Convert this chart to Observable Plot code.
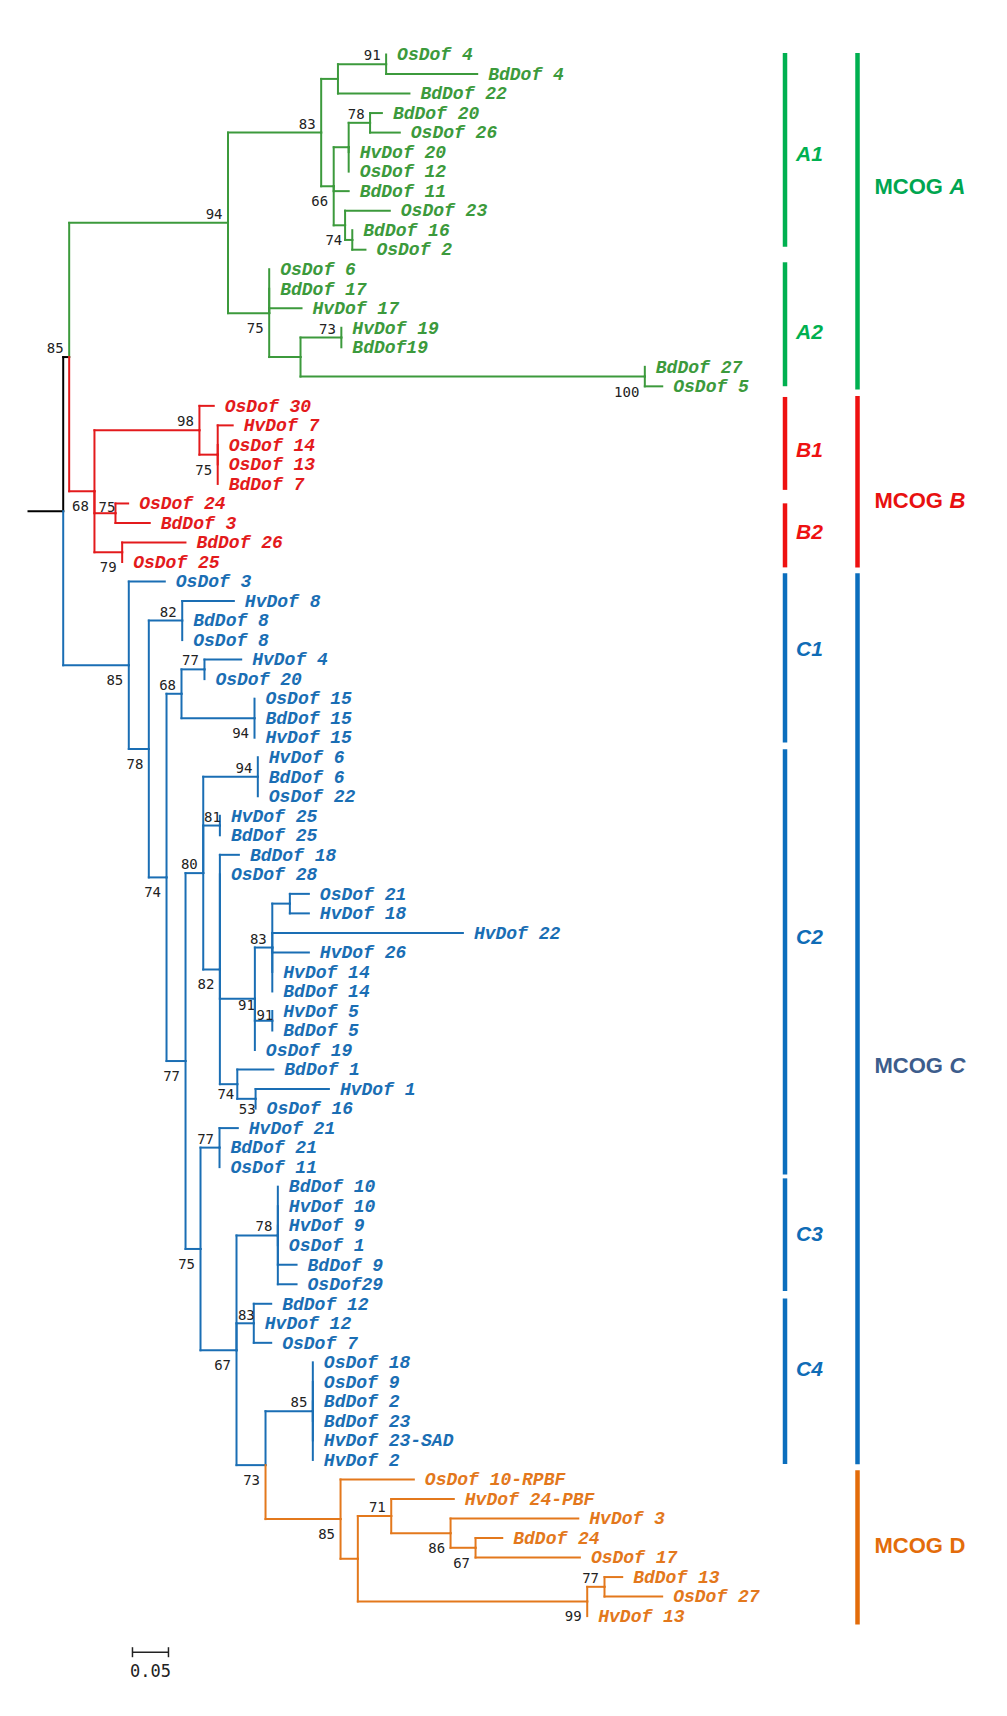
<!DOCTYPE html>
<html><head><meta charset="utf-8">
<script src="https://cdn.jsdelivr.net/npm/d3@7"></script>
<script src="https://cdn.jsdelivr.net/npm/@observablehq/plot@0.6"></script>
<style>body{margin:0;background:#fff}</style>
</head><body><div id="chart"></div>
<script>
// ---------------- DATA ----------------
// Tree edges: [child, parent, branch length (substitutions/site)], children in display order
const edges = [
 ["R","root",0.0482],
 ["AB","R",0.0083],
 ["A","AB",0.2206],
 ["A1","A",0.1294],
 ["A1a","A1",0.0233],
 ["A1b","A1a",0.0669],
 ["OsDof 4","A1b",0],
 ["BdDof 4","A1b",0.1265],
 ["BdDof 22","A1a",0.0993],
 ["A1c","A1",0.0174],
 ["A1d","A1c",0.0208],
 ["A1e","A1d",0.0297],
 ["BdDof 20","A1e",0.0164],
 ["OsDof 26","A1e",0.0413],
 ["HvDof 20","A1d",0],
 ["OsDof 12","A1d",0],
 ["BdDof 11","A1c",0.0208],
 ["A1f","A1c",0.0158],
 ["OsDof 23","A1f",0.0621],
 ["A1g","A1f",0.0100],
 ["BdDof 16","A1g",0],
 ["OsDof 2","A1g",0.0183],
 ["A2","A",0.0572],
 ["OsDof 6","A2",0],
 ["BdDof 17","A2",0],
 ["HvDof 17","A2",0.0449],
 ["A2a","A2",0.0435],
 ["A2b","A2a",0.0567],
 ["HvDof 19","A2b",0],
 ["BdDof19","A2b",0],
 ["A2c","A2a",0.4782],
 ["BdDof 27","A2c",0],
 ["OsDof 5","A2c",0.0242],
 ["B","AB",0.0351],
 ["B1","B",0.1458],
 ["OsDof 30","B1",0.0199],
 ["B1a","B1",0.0254],
 ["HvDof 7","B1a",0.0208],
 ["OsDof 14","B1a",0],
 ["OsDof 13","B1a",0],
 ["BdDof 7","B1a",0],
 ["B2","B",0.0292],
 ["OsDof 24","B2",0.0176],
 ["BdDof 3","B2",0.0476],
 ["B3","B",0.0385],
 ["BdDof 26","B3",0.0879],
 ["OsDof 25","B3",0],
 ["C","R",0.0911],
 ["OsDof 3","C",0.0500],
 ["Ca","C",0.0278],
 ["Cb","Ca",0.0464],
 ["HvDof 8","Cb",0.0717],
 ["BdDof 8","Cb",0],
 ["OsDof 8","Cb",0],
 ["Cc","Ca",0.0246],
 ["Cd","Cc",0.0208],
 ["Ce","Cd",0.0319],
 ["HvDof 4","Ce",0.0510],
 ["OsDof 20","Ce",0],
 ["Cf","Cd",0.1014],
 ["OsDof 15","Cf",0],
 ["BdDof 15","Cf",0],
 ["HvDof 15","Cf",0],
 ["Cg","Cc",0.0264],
 ["Ch","Cg",0.0246],
 ["Ci","Ch",0.0758],
 ["HvDof 6","Ci",0],
 ["BdDof 6","Ci",0],
 ["OsDof 22","Ci",0],
 ["Cj","Ch",0.0231],
 ["HvDof 25","Cj",0],
 ["BdDof 25","Cj",0],
 ["Ck","Ch",0.0231],
 ["BdDof 18","Ck",0.0264],
 ["OsDof 28","Ck",0],
 ["Cl","Ck",0.0486],
 ["Cm","Cl",0.0242],
 ["Cn","Cm",0.0244],
 ["OsDof 21","Cn",0.0264],
 ["HvDof 18","Cn",0.0264],
 ["HvDof 22","Cm",0.2647],
 ["HvDof 26","Cm",0.0508],
 ["HvDof 14","Cm",0],
 ["BdDof 14","Cm",0],
 ["Co","Cl",0.0242],
 ["HvDof 5","Co",0],
 ["BdDof 5","Co",0],
 ["OsDof 19","Cl",0],
 ["Cp","Ck",0.0242],
 ["BdDof 1","Cp",0.0500],
 ["Cq","Cp",0.0254],
 ["HvDof 1","Cq",0.1018],
 ["OsDof 16","Cq",0],
 ["Cr","Cg",0.0208],
 ["Cs","Cr",0.0264],
 ["HvDof 21","Cs",0.0254],
 ["BdDof 21","Cs",0],
 ["OsDof 11","Cs",0],
 ["Ct","Cr",0.0500],
 ["Cu","Ct",0.0574],
 ["BdDof 10","Cu",0],
 ["HvDof 10","Cu",0],
 ["HvDof 9","Cu",0],
 ["OsDof 1","Cu",0],
 ["BdDof 9","Cu",0.0260],
 ["OsDof29","Cu",0.0260],
 ["Cv","Ct",0.0240],
 ["BdDof 12","Cv",0.0242],
 ["HvDof 12","Cv",0],
 ["OsDof 7","Cv",0.0242],
 ["Cw","Ct",0.0403],
 ["Cx","Cw",0.0657],
 ["OsDof 18","Cx",0],
 ["OsDof 9","Cx",0],
 ["BdDof 2","Cx",0],
 ["BdDof 23","Cx",0],
 ["HvDof 23-SAD","Cx",0],
 ["HvDof 2","Cx",0],
 ["D","Cw",0.1042],
 ["OsDof 10-RPBF","D",0.1018],
 ["Da","D",0.0240],
 ["Db","Da",0.0464],
 ["HvDof 24-PBF","Db",0.0869],
 ["Dc","Db",0.0824],
 ["HvDof 3","Dc",0.1774],
 ["Dd","Dc",0.0347],
 ["BdDof 24","Dd",0.0371],
 ["OsDof 17","Dd",0.1449],
 ["De","Da",0.3186],
 ["Df","De",0.0240],
 ["BdDof 13","Df",0.0246],
 ["OsDof 27","Df",0.0801],
 ["HvDof 13","De",0]
];

// Subtree roots that define the MCOG groups
const groupRoots = [["A","A"],["B","B"],["C","C"],["D","D"]];

// Bootstrap values: [node, value]
const bootstrap = [
 ["A1b",91],["A1",83],["A1e",78],["A1c",66],["A1g",74],["A",94],["AB",85],
 ["A2",75],["A2b",73],["A2c",100],
 ["B1",98],["B1a",75],["B",68],["B2",75],["B3",79],
 ["C",85],["Cb",82],["Ce",77],["Cd",68],["Cf",94],["Ca",78],["Ci",94],["Cj",81],
 ["Ch",80],["Cc",74],["Cm",83],["Ck",82],["Cl",91],["Co",91],["Cp",74],["Cq",53],
 ["Cg",77],["Cs",77],["Cr",75],["Cu",78],["Cv",83],["Ct",67],["Cx",85],["Cw",73],
 ["D",85],["Db",71],["Dc",86],["Dd",67],["Df",77],["De",99]
];

// Sub-clade bars: [label, from leaf index, to leaf index, label position]
const subclades = [
 ["A1",-0.05,9.88,5.13],["A2",10.67,17.02,14.23],
 ["B1",17.57,22.33,20.26],["B2",23.02,26.3,24.5],
 ["C1",26.6,35.27,30.47],["C2",35.62,57.4,45.22],
 ["C3",57.6,63.37,60.44],["C4",63.76,72.23,67.35]
];
// MCOG bars: [group, from, to, label position]
const mcogs = [
 ["A",-0.05,17.19,6.78],["B",17.52,26.3,22.85],
 ["C",26.6,72.25,51.83],["D",72.55,80.45,76.42]
];
const scaleBar = {x: 0.1444, y: 81.85, length: 0.05, label: "0.05"};

// ---------------- STYLE / LAYOUT ----------------
const treeColor = {A:"#3c9a3c", B:"#e31a1c", C:"#1a6eb4", D:"#e3781c", none:"#000000"};
const barColor = {A:"#00b050", B:"#ee1111", C:"#0b6ebd", D:"#e36c0a"};
const mcogColor = {A:"#00a650", B:"#e81010", C:"#3d5d8c", D:"#e36c0a"};
const italicLetter = new Set(["A","B","C"]);
const colSub = 1.0507, colMcog = 1.1514;
const X0 = 28, PXU = 720;

// ---------------- BUILD TREE ----------------
const children = new Map(), parentOf = new Map(), lenOf = new Map();
for (const [c,p,l] of edges) {
  if (!children.has(p)) children.set(p, []);
  children.get(p).push(c); parentOf.set(c,p); lenOf.set(c,l);
}
const pos = new Map();
const leaves = [];
let leafIdx = 0;
(function layout(id, depth) {
  const kids = children.get(id);
  if (!kids) { pos.set(id, {x: depth, y: leafIdx++}); leaves.push(id); return; }
  kids.forEach(k => layout(k, depth + lenOf.get(k)));
  const ys = kids.map(k => pos.get(k).y);
  pos.set(id, {x: depth, y: (ys[0] + ys[ys.length - 1]) / 2});
})("root", 0);

const markMap = new Map(groupRoots);
function groupOf(id) {
  let n = id;
  while (n !== undefined) { if (markMap.has(n)) return markMap.get(n); n = parentOf.get(n); }
  return "none";
}

const segs = [];
for (const [c,p] of edges) {
  const pc = pos.get(p), cc = pos.get(c), g = groupOf(c);
  if (pc.y !== cc.y) segs.push({x1: pc.x, y1: pc.y, x2: pc.x, y2: cc.y, g});
  if (pc.x !== cc.x) segs.push({x1: pc.x, y1: cc.y, x2: cc.x, y2: cc.y, g});
}
const leafData = leaves.map(id => ({name: id, x: pos.get(id).x, y: pos.get(id).y, g: groupOf(id)}));

const below = new Set(["A1c","A2","A2c","B1a","B","B3","C","Cf","Ca","Cc","Ck","Cg","Cr","Ct","Cw","D","Dc","Dd","De"]);
const override = {A1g:[-10,1], Cl:[0,7], Co:[1,-5.5], Cj:[1,-8], B2:[0,-6], Cv:[1,-8], Cq:[0,11], Cp:[-3,10]};
const placements = {a:[-5.5,-8.5], b:[-5.5,15.5], ...override};
const bootGroups = {};
for (const [n,v] of bootstrap) {
  const key = override[n] ? n : (below.has(n) ? "b" : "a");
  (bootGroups[key] ??= []).push({x: pos.get(n).x, y: pos.get(n).y, v: String(v)});
}

const groupsList = ["none","A","B","C","D"];
const marks = [];
for (const g of groupsList) {
  marks.push(Plot.link(segs.filter(s => s.g === g), {x1:"x1", y1:"y1", x2:"x2", y2:"y2",
    stroke: treeColor[g], strokeWidth: 2, strokeLinecap: "square"}));
}
for (const g of groupsList) {
  const d = leafData.filter(l => l.g === g);
  if (!d.length) continue;
  marks.push(Plot.text(d, {x:"x", y:"y", text:"name", fill: treeColor[g], textAnchor:"start", dx: 11,
    fontFamily:"Liberation Mono", fontWeight:"bold", fontStyle:"italic", fontSize: 18}));
}
for (const [k, items] of Object.entries(bootGroups)) {
  const [dx, dy] = placements[k];
  marks.push(Plot.text(items, {x:"x", y:"y", text:"v", dx, dy, textAnchor:"end",
    fill:"#222", fontFamily:"DejaVu Sans Mono", fontSize: 14}));
}
// clade bars
const subData = subclades.map(([label,y1,y2,ly]) => ({label, y1, y2, ly, g: label[0]}));
const mcogData = mcogs.map(([g,y1,y2,ly]) => ({g, y1, y2, ly}));
for (const g of ["A","B","C","D"]) {
  const s = subData.filter(d => d.g === g);
  if (s.length) {
    marks.push(Plot.ruleX(s, {x: colSub, y1:"y1", y2:"y2", stroke: barColor[g], strokeWidth: 4.5}));
    marks.push(Plot.text(s, {x: colSub, y:"ly", text:"label", dx: 11, textAnchor:"start", fill: barColor[g] === "#0b6ebd" ? "#0f6cb6" : barColor[g],
      fontFamily:"Liberation Sans", fontWeight:"bold", fontStyle:"italic", fontSize: 21}));
  }
  const m = mcogData.filter(d => d.g === g);
  marks.push(Plot.ruleX(m, {x: colMcog, y1:"y1", y2:"y2", stroke: barColor[g], strokeWidth: 4.5}));
  marks.push(Plot.text(m, {x: colMcog, y:"ly", text: () => "MCOG", dx: 17, textAnchor:"start", fill: mcogColor[g],
    fontFamily:"Liberation Sans", fontWeight:"bold", fontSize: 22}));
  marks.push(Plot.text(m, {x: colMcog, y:"ly", text:"g", dx: 92, textAnchor:"start", fill: mcogColor[g],
    fontFamily:"Liberation Sans", fontWeight:"bold", fontStyle: italicLetter.has(g) ? "italic" : "normal", fontSize: 22}));
}
// scale bar
const tickH = 5 / 19.525;
const sb = [{x1: scaleBar.x, x2: scaleBar.x + scaleBar.length, y1: scaleBar.y, y2: scaleBar.y},
            {x1: scaleBar.x, x2: scaleBar.x, y1: scaleBar.y - tickH, y2: scaleBar.y + tickH},
            {x1: scaleBar.x + scaleBar.length, x2: scaleBar.x + scaleBar.length, y1: scaleBar.y - tickH, y2: scaleBar.y + tickH}];
marks.push(Plot.link(sb, {x1:"x1", y1:"y1", x2:"x2", y2:"y2", stroke:"#222", strokeWidth: 1.5}));
marks.push(Plot.text([scaleBar], {x: d => d.x + d.length / 2, y:"y", text:"label", dy: 19.5,
  fill:"#222", fontFamily:"DejaVu Sans Mono", fontSize: 17}));

const chart = Plot.plot({
  width: 1007, height: 1716, margin: 0,
  x: {domain: [0, (1007 - X0) / PXU], range: [X0, 1007], axis: null},
  y: {domain: [0, 80], range: [54, 1615.6], axis: null},
  style: {background: "#fff", overflow: "visible"},
  marks
});
document.getElementById("chart").appendChild(chart);
</script>
</body></html>
